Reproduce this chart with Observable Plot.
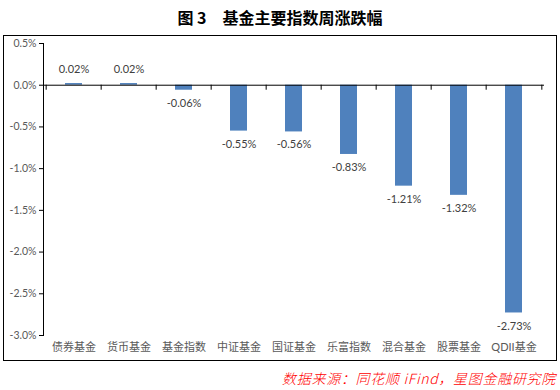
<!DOCTYPE html>
<html>
<head>
<meta charset="utf-8">
<script src="https://cdn.jsdelivr.net/npm/d3@7"></script>
<script src="https://cdn.jsdelivr.net/npm/@observablehq/plot@0.6"></script>
<style>
  html, body { margin: 0; padding: 0; background: #fff; }
  #wrap { position: relative; width: 560px; height: 390px; font-family: Lato, "Noto Sans CJK SC", sans-serif; }
  #title { position: absolute; left: 0; top: 5px; width: 560px; text-align: center; font-family: "Noto Sans CJK SC", serif; font-weight: 700; font-size: 16px; line-height: 24px; color: #000; }
  #box { position: absolute; left: 3px; top: 35px; width: 552px; height: 324px; border: 1px solid #000; }
  #box svg { display: block; }
  #caption { position: absolute; right: 4px; top: 369px; font-family: "Noto Sans CJK SC", sans-serif; font-style: italic; font-weight: 300; font-size: 14px; letter-spacing: 0.7px; line-height: 18px; color: #ff0000; }
</style>
</head>
<body>
<div id="wrap">
  <div id="title">图 3　基金主要指数周涨跌幅</div>
  <div id="box"></div>
  <div id="caption">数据来源：同花顺 iFind，星图金融研究院</div>
</div>
<script>
const categories = ["债券基金", "货币基金", "基金指数", "中证基金", "国证基金", "乐富指数", "混合基金", "股票基金", "QDII基金"];
const values = [0.02, 0.02, -0.06, -0.55, -0.56, -0.83, -1.21, -1.32, -2.73];
const yTicks = [0.5, 0, -0.5, -1.0, -1.5, -2.0, -2.5, -3.0];

const data = categories.map((c, i) => ({category: c, value: values[i]}));
const W = 552, H = 324, mL = 39, mR = 12;
const step = (W - mL - mR) / categories.length;

const chart = Plot.plot({
  width: W,
  height: H,
  marginLeft: mL,
  marginRight: mR,
  marginTop: 7,
  marginBottom: 25,
  style: {fontFamily: 'Lato, "Noto Sans CJK SC", sans-serif', fontSize: "10.5px", background: "transparent"},
  x: {domain: categories, paddingInner: 0.7, paddingOuter: 0.35, axis: null},
  y: {domain: [-3, 0.5], axis: null},
  marks: [
    Plot.frame({anchor: "left", stroke: "#000"}),
    Plot.axisY({ticks: yTicks, label: null, tickSize: 4, tickPadding: 3, tickFormat: d => d.toFixed(1) + "%", color: "#595959", stroke: "#000", fontSize: 10.5}),
    Plot.axisX({anchor: "bottom", tickSize: 0, tickPadding: 8, label: null, color: "#595959", fontSize: 11}),
    Plot.barY(data, {x: "category", y: "value", fill: "#4F81BD"}),
    Plot.ruleY([0], {stroke: "#000", strokeWidth: 1}),
    Plot.ruleX(categories, {x: d => d, y1: 0, y2: -0.06, dx: -step / 2, stroke: "#000"}),
    Plot.ruleX([categories[categories.length - 1]], {x: d => d, y1: 0, y2: -0.06, dx: step / 2, stroke: "#000"}),
    Plot.text(data.filter(d => d.value >= 0), {x: "category", y: "value", text: d => d.value.toFixed(2) + "%", dy: -14, fill: "#404040", fontSize: 11}),
    Plot.text(data.filter(d => d.value < 0), {x: "category", y: "value", text: d => d.value.toFixed(2) + "%", dy: 13, fill: "#404040", fontSize: 11})
  ]
});
document.getElementById("box").appendChild(chart);
</script>
</body>
</html>
